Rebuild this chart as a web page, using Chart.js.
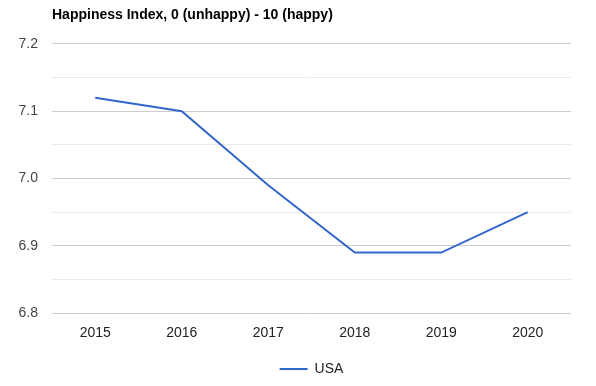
<!DOCTYPE html>
<html lang="en">
<head>
    <meta charset="UTF-8">
    <title>Happiness Index</title>
    <script src="https://cdn.jsdelivr.net/npm/chart.js"></script>
    <style>
        html, body { margin: 0; padding: 0; background: #fff; }
        #wrap { width: 596px; height: 386px; }
    </style>
</head>
<body>
    <div id="wrap"><canvas id="happyChart"></canvas></div>
    <script>
        const years = ['2015', '2016', '2017', '2018', '2019', '2020'];
        const usaScores = [7.12, 7.10, 6.99, 6.89, 6.89, 6.95];
        const chartTitle = 'Happiness Index, 0 (unhappy) - 10 (happy)';

        const font = 'Arial, "Liberation Sans", sans-serif';

        // title starts at the plot's left edge, legend is centred on the plot
        const alignToPlot = {
            id: 'alignToPlot',
            afterLayout(chart) {
                const area = chart.chartArea;
                if (chart.titleBlock) chart.titleBlock.left = area.left;
                if (chart.legend) {
                    chart.legend.left = area.left;
                    chart.legend.right = area.right;
                }
            }
        };

        new Chart(document.getElementById('happyChart'), {
            type: 'line',
            data: {
                labels: years,
                datasets: [{
                    label: 'USA',
                    data: usaScores,
                    borderColor: '#3366cc',
                    backgroundColor: '#3366cc',
                    borderWidth: 2,
                    pointRadius: 0,
                    tension: 0
                }]
            },
            options: {
                responsive: true,
                maintainAspectRatio: false,
                animation: false,
                layout: { padding: { left: 0, right: 25, top: 7, bottom: 0 } },
                plugins: {
                    title: {
                        display: true,
                        text: chartTitle,
                        align: 'start',
                        color: '#000',
                        font: { family: font, size: 14, weight: 'bold' },
                        padding: { top: 0, bottom: 20 }
                    },
                    legend: {
                        position: 'bottom',
                        labels: {
                            usePointStyle: true,
                            pointStyle: 'line',
                            pointStyleWidth: 28,
                            padding: 8,
                            color: '#222',
                            font: { family: font, size: 14 }
                        }
                    },
                    tooltip: { enabled: false }
                },
                scales: {
                    x: {
                        offset: true,
                        grid: { display: false, drawTicks: false },
                        border: { display: false },
                        ticks: { color: '#222', font: { family: font, size: 14 }, padding: 12, maxRotation: 0 }
                    },
                    y: {
                        min: 6.8,
                        max: 7.2,
                        afterFit(scale) { scale.width = 52; },
                        border: { display: false },
                        grid: {
                            drawTicks: false,
                            color: ctx => (Math.round(ctx.tick.value * 100) % 10 === 0 ? '#cccccc' : '#ebebeb')
                        },
                        ticks: {
                            stepSize: 0.05,
                            padding: 14,
                            color: '#444',
                            font: { family: font, size: 14 },
                            callback: v => (Math.round(v * 100) % 10 === 0 ? v.toFixed(1) : '')
                        }
                    }
                }
            },
            plugins: [alignToPlot]
        });
    </script>
</body>
</html>
